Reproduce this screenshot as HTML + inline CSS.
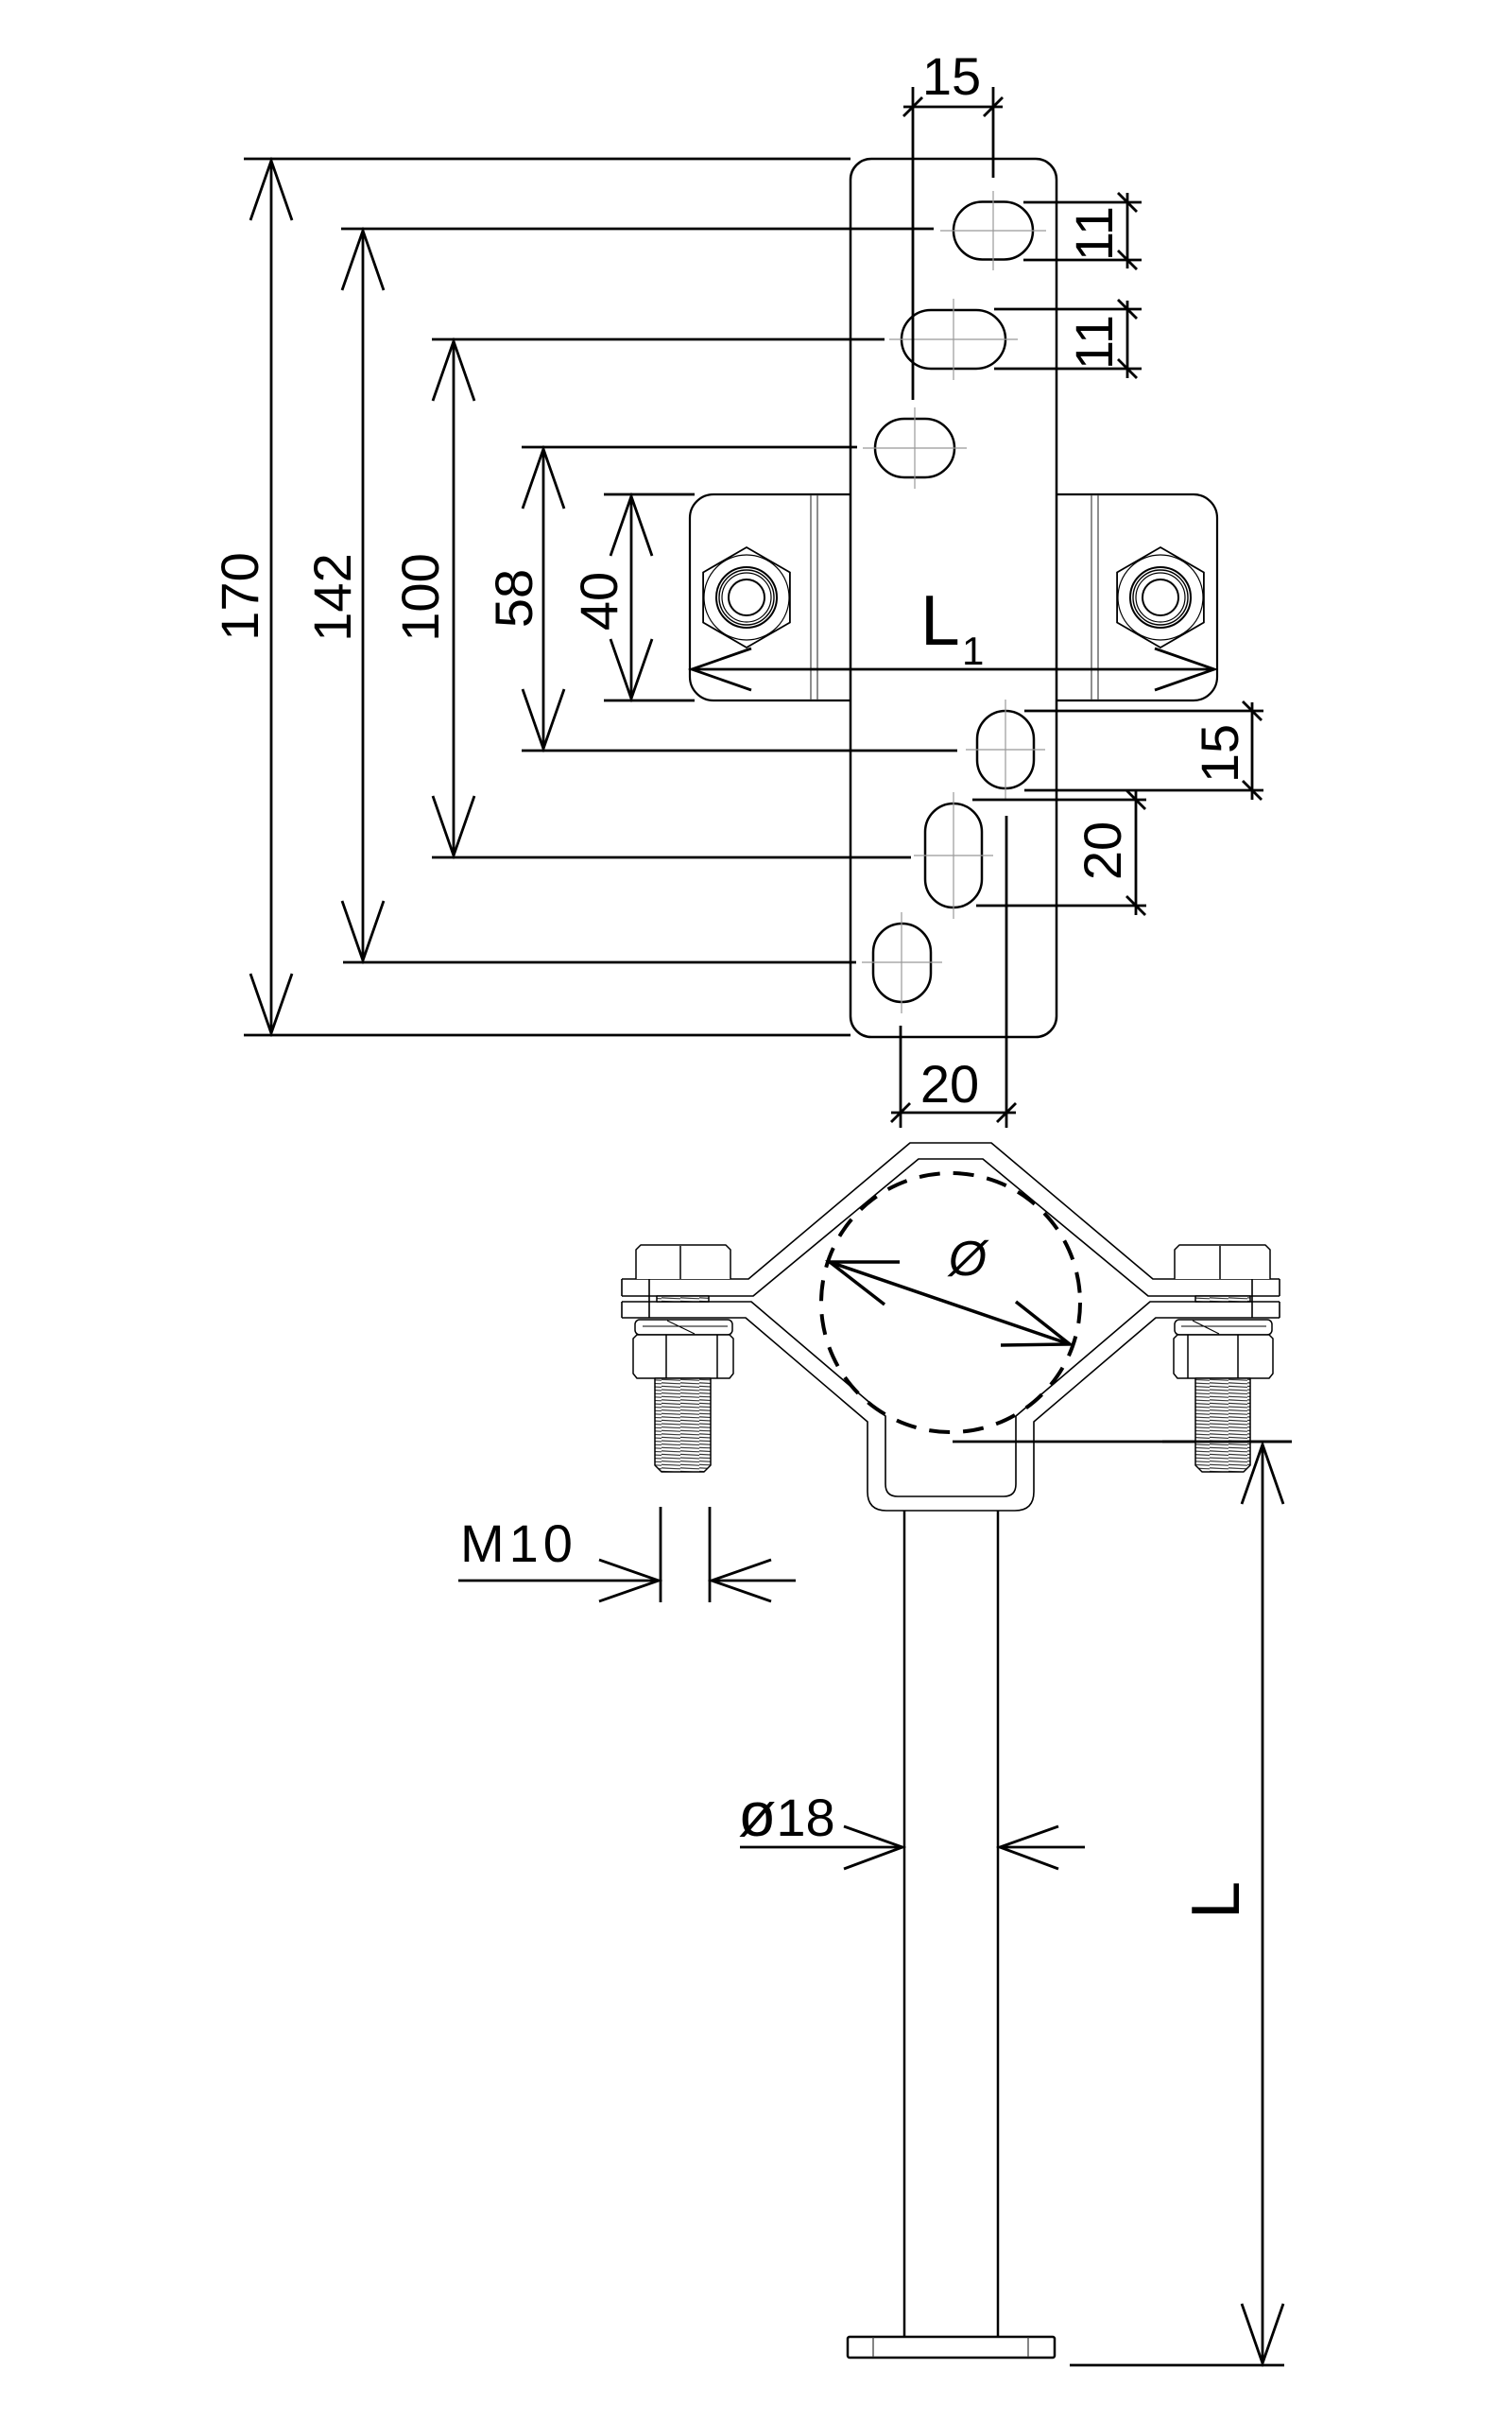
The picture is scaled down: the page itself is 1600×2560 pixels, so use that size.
<!DOCTYPE html>
<html><head><meta charset="utf-8"><style>
html,body{margin:0;padding:0;background:#fff;}
svg{display:block;}
text{font-family:"Liberation Sans",sans-serif;fill:#000;}
</style></head><body>
<svg width="1600" height="2560" viewBox="0 0 1600 2560" xmlns="http://www.w3.org/2000/svg">
<defs>
<pattern id="thr" width="20" height="3.6" patternUnits="userSpaceOnUse">
<rect width="20" height="3.6" fill="#fff"/>
<path d="M0,1.2 L20,2.2" stroke="#222" stroke-width="1.1"/>
</pattern>
</defs>
<rect width="1600" height="2560" fill="#fff"/>

<!-- bracket behind plate -->
<rect x="730" y="523" width="558" height="218" rx="25" fill="#fff" stroke="#000" stroke-width="2.2"/>
<g stroke="#333" stroke-width="1.1">
<line x1="858" y1="523" x2="858" y2="741"/><line x1="865" y1="523" x2="865" y2="741"/>
<line x1="1155" y1="523" x2="1155" y2="741"/><line x1="1162" y1="523" x2="1162" y2="741"/>
</g>
<!-- nuts on bracket -->
<g fill="none" stroke="#000" stroke-width="1.8">
<polygon points="790,579 835.9,605.5 835.9,658.5 790,685 744.1,658.5 744.1,605.5"/>
<circle cx="790" cy="632" r="45" stroke-width="1.2"/>
<circle cx="790" cy="632" r="32" stroke-width="2"/>
<circle cx="790" cy="632" r="29" stroke-width="1.4"/>
<circle cx="790" cy="632" r="26" stroke-width="1.2"/>
<circle cx="790" cy="632" r="19" stroke-width="2"/>
<polygon points="1228,579 1273.9,605.5 1273.9,658.5 1228,685 1182.1,658.5 1182.1,605.5"/>
<circle cx="1228" cy="632" r="45" stroke-width="1.2"/>
<circle cx="1228" cy="632" r="32" stroke-width="2"/>
<circle cx="1228" cy="632" r="29" stroke-width="1.4"/>
<circle cx="1228" cy="632" r="26" stroke-width="1.2"/>
<circle cx="1228" cy="632" r="19" stroke-width="2"/>
</g>

<!-- plate -->
<rect x="900" y="168" width="218" height="929" rx="22" fill="#fff" stroke="#000" stroke-width="2.5"/>

<!-- slots -->
<g fill="none" stroke="#000" stroke-width="2.5">
<rect x="1009" y="213.5" width="84" height="61" rx="30.5"/>
<rect x="954" y="328" width="110" height="62" rx="31"/>
<rect x="926" y="443" width="84" height="62" rx="31"/>
<rect x="1034" y="752" width="60" height="82" rx="30"/>
<rect x="979" y="850" width="60" height="110" rx="30"/>
<rect x="924" y="977" width="61" height="83" rx="30.5"/>
</g>
<!-- centerlines -->
<g stroke="#999" stroke-width="1.2">
<line x1="995" y1="244" x2="1107" y2="244"/><line x1="1051" y1="202" x2="1051" y2="286"/>
<line x1="941" y1="359" x2="1077" y2="359"/><line x1="1009" y1="316" x2="1009" y2="402"/>
<line x1="913" y1="474" x2="1023" y2="474"/><line x1="968" y1="431" x2="968" y2="517"/>
<line x1="1022" y1="793" x2="1106" y2="793"/><line x1="1064" y1="740" x2="1064" y2="846"/>
<line x1="967" y1="905" x2="1051" y2="905"/><line x1="1009" y1="838" x2="1009" y2="972"/>
<line x1="912" y1="1018" x2="997" y2="1018"/><line x1="954" y1="965" x2="954" y2="1072"/>
</g>

<!-- dimension lines -->
<g stroke="#000" stroke-width="2.8" fill="none" stroke-linecap="butt">
<!-- left ext lines -->
<line x1="258" y1="168" x2="900" y2="168"/><line x1="258" y1="1095" x2="900" y2="1095"/>
<line x1="361" y1="242" x2="988" y2="242"/><line x1="363" y1="1018" x2="906" y2="1018"/>
<line x1="457" y1="359" x2="936" y2="359"/><line x1="457" y1="907" x2="964" y2="907"/>
<line x1="552" y1="473" x2="907" y2="473"/><line x1="552" y1="794" x2="1013" y2="794"/>
<line x1="639" y1="523" x2="735" y2="523"/><line x1="639" y1="741" x2="735" y2="741"/>
<!-- left dim lines -->
<line x1="287" y1="170" x2="287" y2="1093"/>
<line x1="384" y1="244" x2="384" y2="1016"/>
<line x1="480" y1="361" x2="480" y2="905"/>
<line x1="575" y1="475" x2="575" y2="792"/>
<line x1="668" y1="525" x2="668" y2="739"/>
<!-- arrows -->
<polyline points="265,233 287,170 309,233"/><polyline points="265,1030 287,1093 309,1030"/>
<polyline points="362,307 384,244 406,307"/><polyline points="362,953 384,1016 406,953"/>
<polyline points="458,424 480,361 502,424"/><polyline points="458,842 480,905 502,842"/>
<polyline points="553,538 575,475 597,538"/><polyline points="553,729 575,792 597,729"/>
<polyline points="646,588 668,525 690,588"/><polyline points="646,676 668,739 690,676"/>
<!-- L1 -->
<line x1="732" y1="708" x2="1285" y2="708"/>
<polyline points="795,686 732,708 795,730"/><polyline points="1222,686 1285,708 1222,730"/>
<!-- top 15 -->
<line x1="966" y1="92" x2="966" y2="423"/><line x1="1051" y1="92" x2="1051" y2="188"/>
<line x1="956" y1="113" x2="1061" y2="113"/>
<line x1="956" y1="123" x2="976" y2="103"/><line x1="1041" y1="123" x2="1061" y2="103"/>
<!-- 11 a -->
<line x1="1083" y1="214" x2="1208" y2="214"/><line x1="1083" y1="275" x2="1208" y2="275"/>
<line x1="1193" y1="204" x2="1193" y2="284"/>
<line x1="1183" y1="204" x2="1203" y2="224"/><line x1="1183" y1="265" x2="1203" y2="285"/>
<!-- 11 b -->
<line x1="1052" y1="327" x2="1208" y2="327"/><line x1="1052" y1="390" x2="1208" y2="390"/>
<line x1="1193" y1="318" x2="1193" y2="400"/>
<line x1="1183" y1="317" x2="1203" y2="337"/><line x1="1183" y1="380" x2="1203" y2="400"/>
<!-- 15 right -->
<line x1="1084" y1="752" x2="1337" y2="752"/><line x1="1084" y1="836" x2="1337" y2="836"/>
<line x1="1325" y1="743" x2="1325" y2="846"/>
<line x1="1315" y1="742" x2="1335" y2="762"/><line x1="1315" y1="826" x2="1335" y2="846"/>
<!-- 20 right -->
<line x1="1029" y1="846" x2="1213" y2="846"/><line x1="1033" y1="958" x2="1213" y2="958"/>
<line x1="1202" y1="836" x2="1202" y2="968"/>
<line x1="1192" y1="836" x2="1212" y2="856"/><line x1="1192" y1="948" x2="1212" y2="968"/>
<!-- 20 bottom -->
<line x1="1065" y1="863" x2="1065" y2="1193"/><line x1="953" y1="1085" x2="953" y2="1193"/>
<line x1="943" y1="1177" x2="1075" y2="1177"/>
<line x1="943" y1="1187" x2="963" y2="1167"/><line x1="1055" y1="1187" x2="1075" y2="1167"/>
<!-- M10 -->
<line x1="699" y1="1594" x2="699" y2="1695"/><line x1="751" y1="1594" x2="751" y2="1695"/>
<line x1="485" y1="1672" x2="697" y2="1672"/><line x1="753" y1="1672" x2="842" y2="1672"/>
<polyline points="634,1650 697,1672 634,1694"/><polyline points="816,1650 753,1672 816,1694"/>
<!-- ø18 -->
<line x1="783" y1="1954" x2="955" y2="1954"/><line x1="1058" y1="1954" x2="1148" y2="1954"/>
<polyline points="893,1932 955,1954 893,1977"/><polyline points="1120,1932 1058,1954 1120,1977"/>
<!-- L -->
<line x1="1008" y1="1525" x2="1367" y2="1525"/><line x1="1132" y1="2502" x2="1359" y2="2502"/>
<line x1="1336" y1="1528" x2="1336" y2="2500"/>
<polyline points="1314,1591 1336,1528 1358,1591"/><polyline points="1314,2437 1336,2500 1358,2437"/>
</g>

<!-- clamp -->
<g fill="none" stroke="#000" stroke-width="1.6" stroke-linejoin="round">
<path d="M658,1353 L792,1353 L963,1209 L1049,1209 L1220,1353 L1354,1353"/>
<path d="M658,1371 L797,1371 L972,1226 L1040,1226 L1215,1371 L1354,1371"/>
<path d="M658,1377 L795,1377 L937,1498 L937,1570 Q937,1583 950,1583 L1062,1583 Q1075,1583 1075,1570 L1075,1498 L1217,1377 L1354,1377"/>
<path d="M658,1394 L789,1394 L918,1504 L918,1578 Q918,1598 938,1598 L1074,1598 Q1094,1598 1094,1578 L1094,1504 L1223,1394 L1354,1394"/>
<path d="M658,1353 V1371 M1354,1353 V1371 M658,1377 V1394 M1354,1377 V1394 M687,1353 V1394 M1325,1353 V1394"/>
</g>
<!-- bolts -->
<g fill="#fff" stroke="#000" stroke-width="1.5" stroke-linejoin="round">
<path d="M673,1353 V1322 L678,1317 H768 L773,1322 V1353"/>
<line x1="720" y1="1318" x2="720" y2="1353"/>
<rect x="695" y="1371" width="55" height="6" fill="url(#thr)"/>
<rect x="672" y="1396" width="103" height="16" rx="5"/>
<path d="M706,1397 L735,1411 M680,1403 H770" fill="none" stroke-width="1.1"/>
<polygon points="674,1412 772,1412 776,1416 776,1453 772,1458 674,1458 670,1453 670,1416"/>
<line x1="705" y1="1412" x2="705" y2="1458"/><line x1="759" y1="1412" x2="759" y2="1458"/>
<path d="M693,1458 V1550 L700,1557 H745 L752,1550 V1458 Z" fill="url(#thr)"/>

<path d="M1243,1353 V1322 L1248,1317 H1339 L1344,1322 V1353"/>
<line x1="1291" y1="1318" x2="1291" y2="1353"/>
<rect x="1265" y="1371" width="58" height="6" fill="url(#thr)"/>
<rect x="1243" y="1396" width="103" height="16" rx="5"/>
<path d="M1262,1397 L1290,1411 M1250,1403 H1340" fill="none" stroke-width="1.1"/>
<polygon points="1246,1412 1343,1412 1347,1416 1347,1453 1343,1458 1246,1458 1242,1453 1242,1416"/>
<line x1="1257" y1="1412" x2="1257" y2="1458"/><line x1="1310" y1="1412" x2="1310" y2="1458"/>
<path d="M1265,1458 V1550 L1272,1557 H1316 L1323,1550 V1458 Z" fill="url(#thr)"/>
</g>
<line x1="1230" y1="1525" x2="1367" y2="1525" stroke="#000" stroke-width="2.8"/>

<!-- pipe circle -->
<circle cx="1006" cy="1378" r="137" fill="none" stroke="#000" stroke-width="4" stroke-dasharray="22 14"/>
<g stroke="#000" stroke-width="3.5" fill="none">
<line x1="878" y1="1335" x2="1132" y2="1422"/>
<polyline points="952,1335 878,1335 936,1380"/>
<polyline points="1059,1423 1132,1422 1075,1377"/>
</g>

<!-- rod & base -->
<g stroke="#000" stroke-width="2.5" fill="none">
<line x1="957" y1="1598" x2="957" y2="2472"/><line x1="1056" y1="1598" x2="1056" y2="2472"/>
<rect x="897" y="2472" width="219" height="22" rx="2"/>
</g>
<g stroke="#333" stroke-width="1.2">
<line x1="924" y1="2472" x2="924" y2="2494"/><line x1="1088" y1="2472" x2="1088" y2="2494"/>
</g>

<!-- texts -->
<g font-size="56">
<text x="1007" y="100" text-anchor="middle">15</text>
<text x="1005" y="1166" text-anchor="middle">20</text>
<text transform="translate(1157,247) rotate(-90)" y="20" text-anchor="middle">11</text>
<text transform="translate(1157,362) rotate(-90)" y="20" text-anchor="middle">11</text>
<text transform="translate(1290,797) rotate(-90)" y="20" text-anchor="middle">15</text>
<text transform="translate(1166,900) rotate(-90)" y="20" text-anchor="middle">20</text>
<text transform="translate(253,631) rotate(-90)" y="20" text-anchor="middle">170</text>
<text transform="translate(351,632) rotate(-90)" y="20" text-anchor="middle">142</text>
<text transform="translate(444,632) rotate(-90)" y="20" text-anchor="middle">100</text>
<text transform="translate(543,633) rotate(-90)" y="20" text-anchor="middle">58</text>
<text transform="translate(633,636) rotate(-90)" y="20" text-anchor="middle">40</text>
<text x="487" y="1652" letter-spacing="5">M10</text>
<text x="781" y="1942"><tspan font-size="66">ø</tspan>18</text>
</g>
<text x="974" y="682" font-size="75">L</text>
<text x="1018" y="703" font-size="42">1</text>
<text x="1024" y="1349" font-size="52" font-style="italic" text-anchor="middle">Ø</text>
<text transform="translate(1285,2010) rotate(-90)" y="26" font-size="72" text-anchor="middle">L</text>
</svg>
</body></html>
